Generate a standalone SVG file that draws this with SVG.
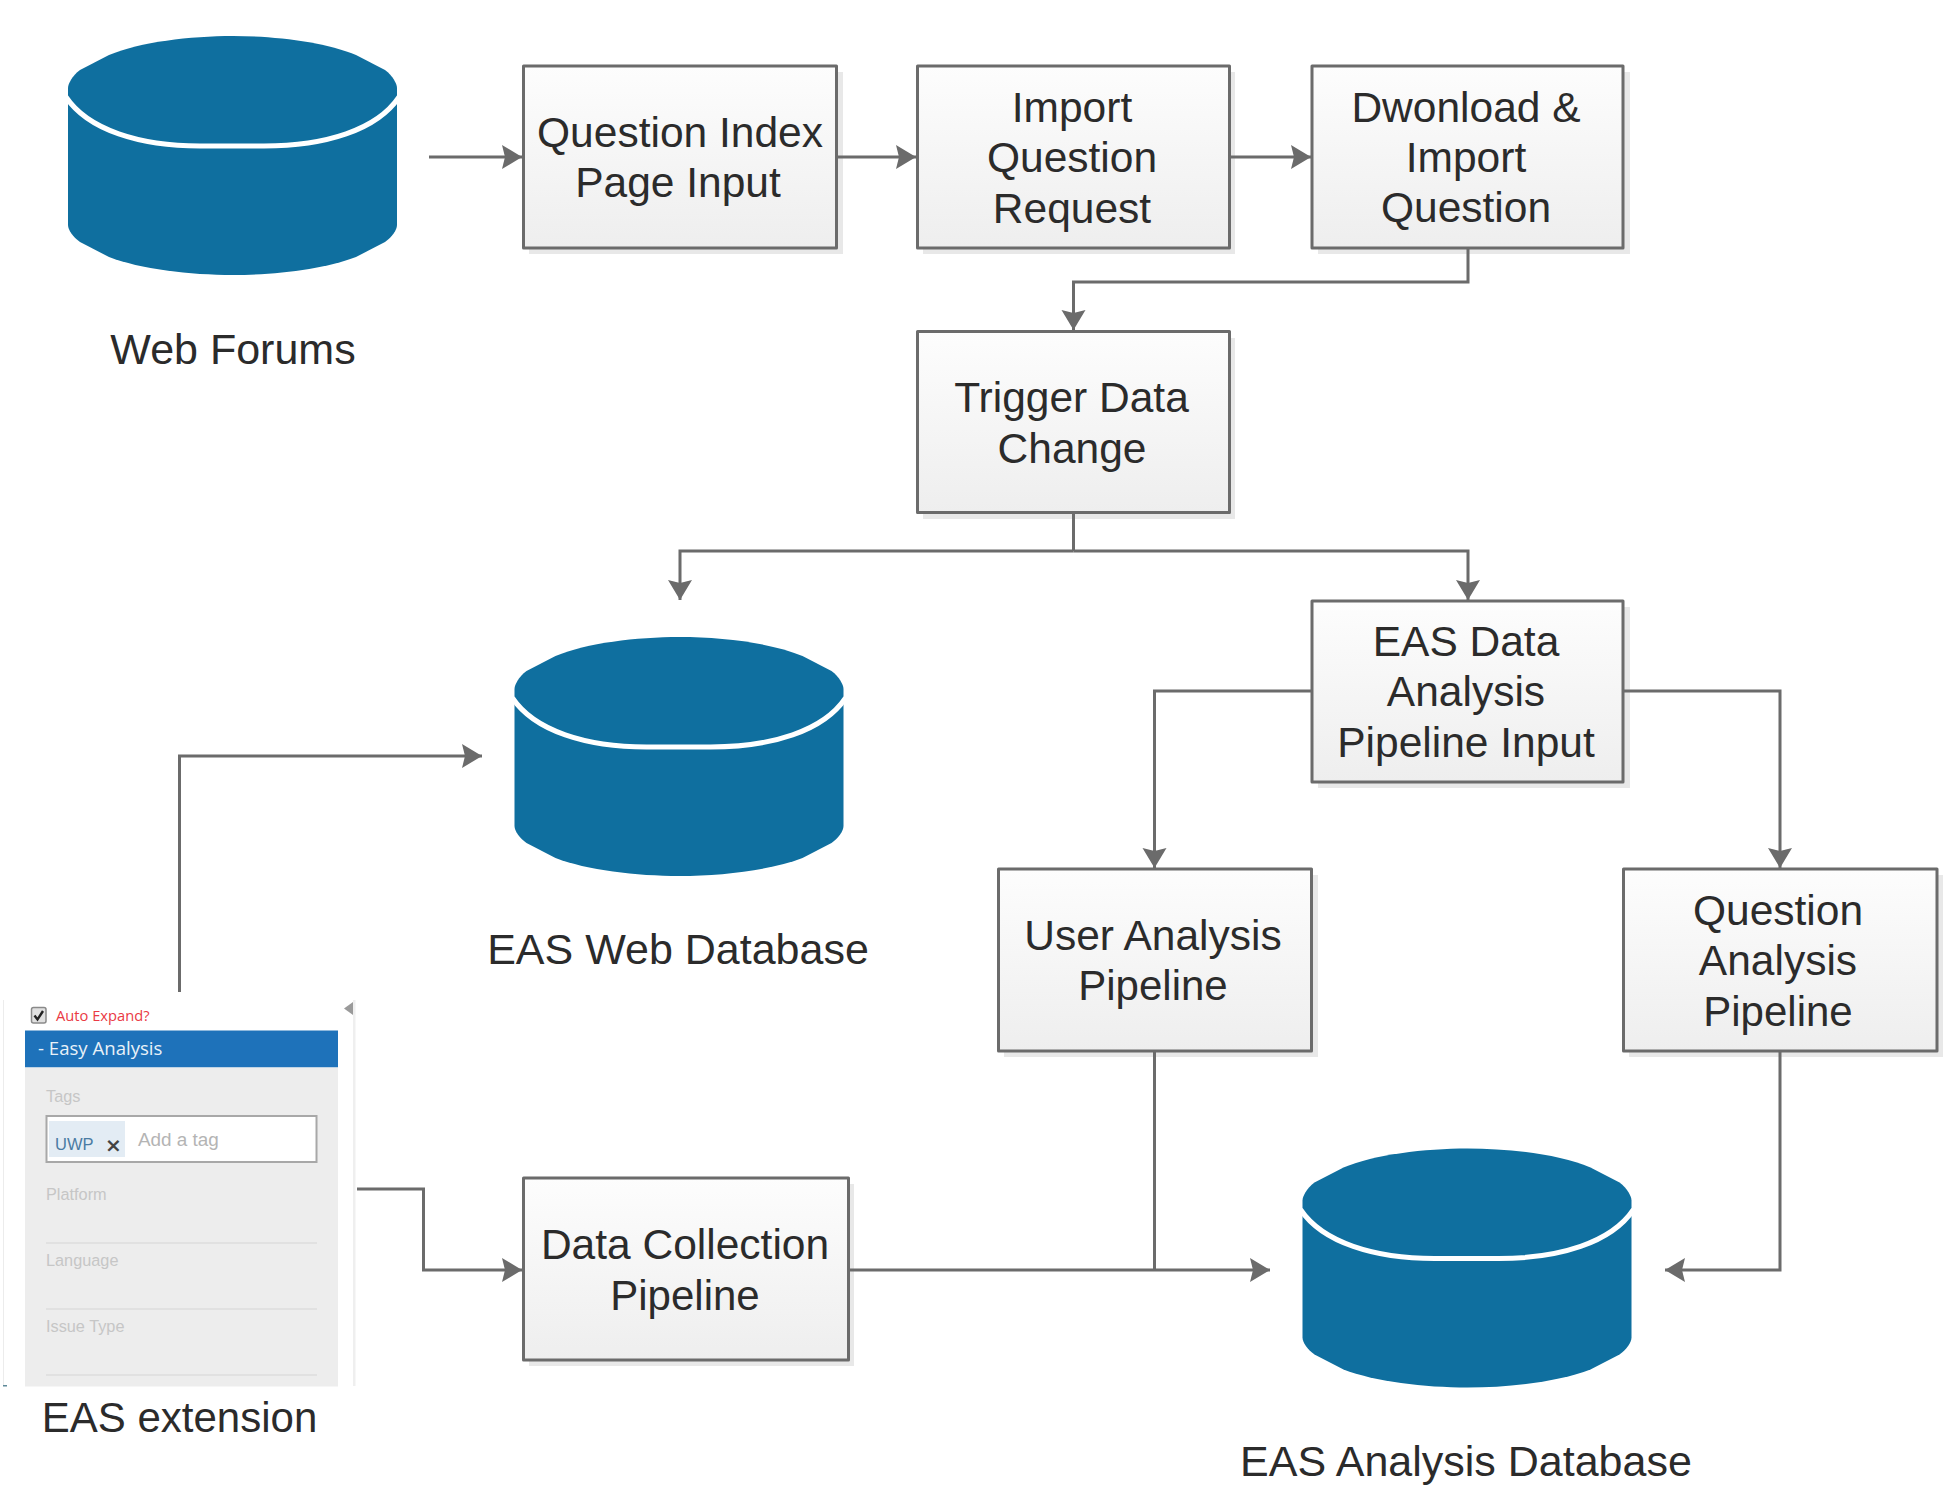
<svg xmlns="http://www.w3.org/2000/svg" xmlns:xlink="http://www.w3.org/1999/xlink" width="1946" height="1488" viewBox="0 0 1946 1488">
<style>
text{font-family:"Liberation Sans",Arial,sans-serif}
.t{font-size:42.5px;fill:#2b2b2b;text-anchor:middle}
.l{font-size:43px}
.p{font-size:42px}
.box{fill:url(#g);stroke:#6b6b6b;stroke-width:3;stroke-linejoin:round}
.sh{fill:#e8e8e8}
.c{fill:none;stroke:#6b6b6b;stroke-width:3}
.a{marker-end:url(#ah)}
.lab{font-size:16.300px;fill:#c6c6c6}
.ln{stroke:#dcdcdc;stroke-width:1.5}
</style>
<defs>
<linearGradient id="g" x1="0" y1="0" x2="0" y2="1"><stop offset="0" stop-color="#fdfdfd"/><stop offset="1" stop-color="#eeeeee"/></linearGradient>
<marker id="ah" markerUnits="userSpaceOnUse" markerWidth="24" markerHeight="26" refX="22" refY="13" orient="auto" viewBox="0 0 24 26"><path d="M2,1 L22,13 L2,25 L5,13 Z" fill="#6b6b6b"/></marker>
<g id="cyl">
<path d="M68,88 C68,84 72,76 80,70 L109,55 C140,42 190,36 233,36 C276,36 325,42 356,55 L385,70 C393,76 397,84 397,88 V225 C397,230 392,237 385,242 L356,257 C325,269 276,275 233,275 C190,275 140,269 109,257 L80,242 C73,237 68,230 68,225 Z" fill="#0f6f9f"/>
<path d="M66,97 C88,130 140,146 200,146 H264 C325,146 377,130 399,97" fill="none" stroke="#fff" stroke-width="5"/>
</g>
</defs>
<rect width="1946" height="1488" fill="#fff"/>

<g id="web-forums"><use xlink:href="#cyl" href="#cyl"/><text class="t l" x="233" y="364">Web Forums</text></g>
<g id="eas-web-db"><use xlink:href="#cyl" href="#cyl" transform="translate(446.500,601)"/><text class="t l" x="678" y="964">EAS Web Database</text></g>
<g id="eas-analysis-db"><use xlink:href="#cyl" href="#cyl" transform="translate(1234.500,1112.500)"/><text class="t l" x="1466" y="1476">EAS Analysis Database</text></g>

<g id="question-index"><rect class="sh" x="529" y="72" width="314" height="182"/><rect class="box" x="523.500" y="66" width="313" height="182"/><text class="t" x="680" y="147">Question Index</text><text class="t" x="678" y="197">Page Input</text></g>
<g id="import-request"><rect class="sh" x="923" y="72" width="312" height="182"/><rect class="box" x="917.500" y="66" width="312" height="182"/><text class="t" x="1072" y="122">Import</text><text class="t" x="1072" y="172">Question</text><text class="t" x="1072" y="223">Request</text></g>
<g id="download"><rect class="sh" x="1318" y="72" width="312" height="182"/><rect class="box" x="1312" y="66" width="311" height="182"/><text class="t" x="1466" y="122">Dwonload &amp;</text><text class="t" x="1466" y="172">Import</text><text class="t" x="1466" y="222">Question</text></g>
<g id="trigger"><rect class="sh" x="923" y="338" width="312" height="181"/><rect class="box" x="917.500" y="331.500" width="312" height="181"/><text class="t" x="1071.500" y="412">Trigger Data</text><text class="t" x="1072" y="463">Change</text></g>
<g id="eas-data"><rect class="sh" x="1318" y="607" width="312" height="181"/><rect class="box" x="1312" y="601" width="311" height="181"/><text class="t" x="1466" y="656">EAS Data</text><text class="t" x="1466" y="706">Analysis</text><text class="t" x="1466" y="757">Pipeline Input</text></g>
<g id="user-analysis"><rect class="sh" x="1004" y="875" width="314" height="182"/><rect class="box" x="998.500" y="869" width="313" height="182"/><text class="t" x="1153" y="950">User Analysis</text><text class="t p" x="1153" y="1000">Pipeline</text></g>
<g id="question-analysis"><rect class="sh" x="1629" y="875" width="314" height="182"/><rect class="box" x="1623.500" y="869" width="313.500" height="182"/><text class="t" x="1778" y="925">Question</text><text class="t" x="1778" y="975">Analysis</text><text class="t p" x="1778" y="1026">Pipeline</text></g>
<g id="data-collection"><rect class="sh" x="529" y="1184" width="325" height="182"/><rect class="box" x="523.500" y="1178" width="325" height="182"/><text class="t" x="685" y="1259">Data Collection</text><text class="t p" x="685" y="1310">Pipeline</text></g>

<g id="eas-extension">
<rect x="3" y="1000" width="1" height="386" fill="#ececec"/>
<rect x="353" y="1000" width="2.500" height="386" fill="#efefef"/>
<rect x="3" y="1385" width="4" height="1.500" fill="#5f8a99"/>
<path d="M344,1008.500 L353,1002 V1015 Z" fill="#9a9a9a"/>
<rect x="31.500" y="1007.500" width="14.500" height="15.500" rx="2" fill="#e0e0e0" stroke="#8a8a8a" stroke-width="1.500"/>
<path d="M34.500,1015.500 L37.500,1019.500 L43,1011" fill="none" stroke="#222" stroke-width="2.400"/>
<text x="56" y="1021" font-size="14.700" fill="#ea3a44" style="font-family:'Open Sans',sans-serif">Auto Expand?</text>
<rect x="25" y="1030.500" width="313" height="37" fill="#1e72ba"/>
<rect x="25" y="1067.500" width="313" height="319" fill="#ededed"/>
<text x="38" y="1055" font-size="18.600" fill="#e8f1f8" style="font-family:'Open Sans',sans-serif">- Easy Analysis</text>
<text class="lab" x="46" y="1102">Tags</text>
<rect x="46.500" y="1116" width="270" height="46" fill="#fff" stroke="#a8a8a8" stroke-width="2"/>
<rect x="49" y="1121" width="76" height="36" fill="#e3ecf4"/>
<text x="55" y="1150" font-size="16.500" fill="#4a7ba3">UWP</text>
<text x="105" y="1152" font-size="20" font-weight="bold" fill="#444" style="font-family:'DejaVu Sans',sans-serif">×</text>
<text x="138" y="1146" font-size="18.900" fill="#b4b4b4">Add a tag</text>
<text class="lab" x="46" y="1200">Platform</text>
<line class="ln" x1="46" y1="1243" x2="317" y2="1243"/>
<text class="lab" x="46" y="1266">Language</text>
<line class="ln" x1="46" y1="1309" x2="317" y2="1309"/>
<text class="lab" x="46" y="1332">Issue Type</text>
<line class="ln" x1="46" y1="1375" x2="317" y2="1375"/>
<text class="t" style="font-size:42px" x="179.500" y="1432">EAS extension</text>
</g>

<g id="connectors">
<path class="c a" d="M429,157 H522"/>
<path class="c a" d="M838,157 H916"/>
<path class="c a" d="M1231,157 H1311"/>
<path class="c a" d="M1468,249 V282 H1073.500 V330"/>
<path class="c" d="M1073.500,514 V551"/>
<path class="c a" d="M1073.500,551 H680 V600"/>
<path class="c a" d="M1073.500,551 H1468 V600"/>
<path class="c a" d="M1311,691 H1154.500 V868"/>
<path class="c a" d="M1624,691 H1780 V868"/>
<path class="c" d="M1154.500,1052 V1270"/>
<path class="c a" d="M850,1270 H1270"/>
<path class="c a" d="M1780,1052 V1270 H1665"/>
<path class="c a" d="M179.500,992 V756 H482"/>
<path class="c a" d="M357,1189 H423.500 V1270 H522"/>
</g>
</svg>
